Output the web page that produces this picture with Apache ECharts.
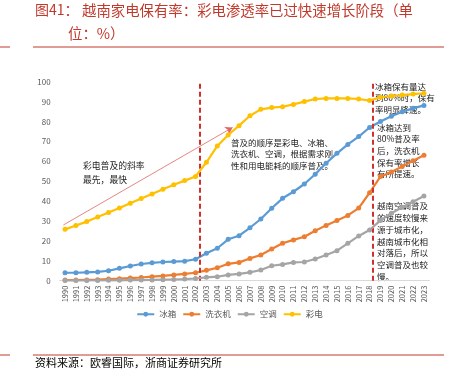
<!DOCTYPE html>
<html>
<head>
<meta charset="utf-8">
<script src="https://cdn.jsdelivr.net/npm/echarts@6/dist/echarts.min.js"></script>
<style>
  html, body { margin: 0; padding: 0; background: #fff; }
  #main { width: 459px; height: 376px; }
</style>
</head>
<body>
<div id="main"></div>
<script>
// 年份
var years = ['1990','1991','1992','1993','1994','1995','1996','1997','1998','1999',
  '2000','2001','2002','2003','2004','2005','2006','2007','2008','2009',
  '2010','2011','2012','2013','2014','2015','2016','2017','2018','2019',
  '2020','2021','2022','2023'];
// 冰箱
var fridge = [4.0,4.0,4.2,4.4,5.0,6.2,7.4,8.4,9.0,9.4,
  9.6,9.8,10.8,13.8,16.3,20.8,22.6,26.6,31.0,36.4,
  41.4,44.7,48.6,53.5,59.0,64.0,68.5,72.4,77.0,80.0,
  82.6,84.9,86.6,88.1];
// 洗衣机
var washer = [0.3,0.3,0.4,0.5,0.8,1.0,1.3,1.6,2.0,2.4,
  2.9,3.4,4.0,5.2,6.5,8.5,9.2,11.2,12.9,15.9,
  18.8,20.5,22.1,25.1,27.8,30.3,32.8,36.5,44.2,52.3,
  54.6,57.4,60.3,63.0];
// 空调
var aircon = [0.1,0.1,0.1,0.1,0.2,0.2,0.3,0.3,0.4,0.5,
  0.6,0.8,1.1,1.7,2.0,2.9,3.4,4.2,5.4,7.5,
  8.2,9.2,9.4,10.9,12.9,15.1,18.8,22.5,25.5,30.3,
  33.9,36.9,39.7,42.6];
// 彩电
var tv = [25.8,27.7,29.7,32.0,34.3,36.5,38.9,41.3,43.6,46.0,
  48.2,50.3,52.4,59.5,67.7,73.2,77.9,82.9,86.1,87.0,
  87.4,88.6,90.0,91.3,91.6,91.6,91.6,91.3,90.5,92.2,
  92.8,93.3,93.8,94.2];
var seriesNames = ['冰箱','洗衣机','空调','彩电'];
var seriesColors = ['#5B9BD5','#ED7D31','#A5A5A5','#FFC000'];
// 分界线（年份位置）
var dividers = [2002.4, 2018.3];
// 斜率箭头
var arrowFrom = [1989.85, 28];
var arrowTo = [2005.4, 77];

var font = '"Noto Sans CJK SC", "Noto Sans", sans-serif';
var chart = echarts.init(document.getElementById('main'));

function lineSeries(i, data) {
  return {
    name: seriesNames[i],
    type: 'line',
    data: data,
    symbol: 'circle',
    symbolSize: 5,
    lineStyle: { width: 2.2, color: seriesColors[i] },
    itemStyle: { color: seriesColors[i] },
    z: 3 + i
  };
}

var option = {
  animation: false,
  textStyle: { fontFamily: font },
  grid: { left: 59.6, top: 81.7, width: 369.8, height: 199 },
  legend: {
    data: seriesNames,
    top: 305,
    left: 'center',
    itemWidth: 17,
    itemHeight: 6,
    itemGap: 6,
    textStyle: { fontSize: 8.5, color: '#595959', fontFamily: font }
  },
  xAxis: [{
    type: 'category',
    data: years,
    boundaryGap: true,
    axisLine: { lineStyle: { color: '#D9D9D9' } },
    axisTick: { show: false },
    axisLabel: { rotate: 90, fontSize: 7.5, color: '#595959', interval: 0, margin: 5 }
  }, {
    type: 'value',
    min: 1989.5,
    max: 2023.5,
    show: false
  }],
  yAxis: {
    type: 'value',
    min: 0,
    max: 100,
    interval: 10,
    axisLine: { show: false },
    axisTick: { show: false },
    splitLine: { show: false },
    axisLabel: { fontSize: 8, color: '#595959', margin: 9 }
  },
  series: [
    lineSeries(0, fridge),
    lineSeries(1, washer),
    lineSeries(2, aircon),
    lineSeries(3, tv),
    {
      type: 'line',
      xAxisIndex: 1,
      data: [],
      silent: true,
      markLine: {
        silent: true,
        symbol: ['none', 'none'],
        label: { show: false },
        lineStyle: { color: '#D0312D', type: [5, 3], width: 2 },
        data: dividers.map(function (d) {
          return [{ coord: [d, 0] }, { coord: [d, 99] }];
        })
      }
    },
    {
      type: 'line',
      xAxisIndex: 1,
      data: [],
      silent: true,
      markLine: {
        silent: true,
        symbol: ['none', 'arrow'],
        symbolSize: 7,
        label: { show: false },
        lineStyle: { color: '#E06666', type: 'solid', width: 0.8 },
        data: [[{ coord: arrowFrom }, { coord: arrowTo }]]
      }
    }
  ],
  graphic: [
    { type: 'text', left: 35, top: 3, style: { text: '图41：', fill: '#C0392B', fontSize: 14, fontFamily: font } },
    { type: 'text', left: 82, top: 3, style: { text: '越南家电保有率：彩电渗透率已过快速增长阶段（单', fill: '#C0392B', fontSize: 14.4, fontFamily: font } },
    { type: 'text', left: 68, top: 26, style: { text: '位：%）', fill: '#C0392B', fontSize: 14.4, fontFamily: font } },
    { type: 'line', shape: { x1: 33, y1: 47, x2: 444, y2: 47 }, style: { stroke: '#C0392B', lineWidth: 1 } },
    { type: 'line', shape: { x1: 0, y1: 47, x2: 10, y2: 47 }, style: { stroke: '#C0392B', lineWidth: 1 } },
    { type: 'line', shape: { x1: 33, y1: 355, x2: 444, y2: 355 }, style: { stroke: '#C0392B', lineWidth: 1 } },
    { type: 'line', shape: { x1: 0, y1: 355, x2: 10, y2: 355 }, style: { stroke: '#C0392B', lineWidth: 1 } },
    { type: 'text', left: 35, top: 357, style: { text: '资料来源：欧睿国际，浙商证券研究所', fill: '#000', fontSize: 11, fontFamily: font } },
    { type: 'text', left: 83, top: 159, style: { text: '彩电普及的斜率\n最先，最快', fill: '#222', fontSize: 8.8, lineHeight: 14, fontFamily: font } },
    { type: 'text', left: 231, top: 137, style: { text: '普及的顺序是彩电、冰箱、\n洗衣机、空调，根据需求刚\n性和用电能耗的顺序普及。', fill: '#222', fontSize: 8.5, lineHeight: 11.5, fontFamily: font } },
    { type: 'text', left: 375, top: 81, style: { text: '冰箱保有量达\n到80%时，保有\n率明显降速。', fill: '#222', fontSize: 8.5, lineHeight: 11.5, fontFamily: font } },
    { type: 'text', left: 377, top: 121.5, style: { text: '冰箱达到\n80%普及率\n后，洗衣机\n保有率增长\n有所提速。', fill: '#222', fontSize: 8.5, lineHeight: 11.7, fontFamily: font } },
    { type: 'text', left: 377, top: 200, style: { text: '越南空调普及\n的速度较慢来\n源于城市化，\n越南城市化相\n对落后，所以\n空调普及也较\n慢。', fill: '#222', fontSize: 8.5, lineHeight: 11.8, fontFamily: font } }
  ]
};
chart.setOption(option);
</script>
</body>
</html>
